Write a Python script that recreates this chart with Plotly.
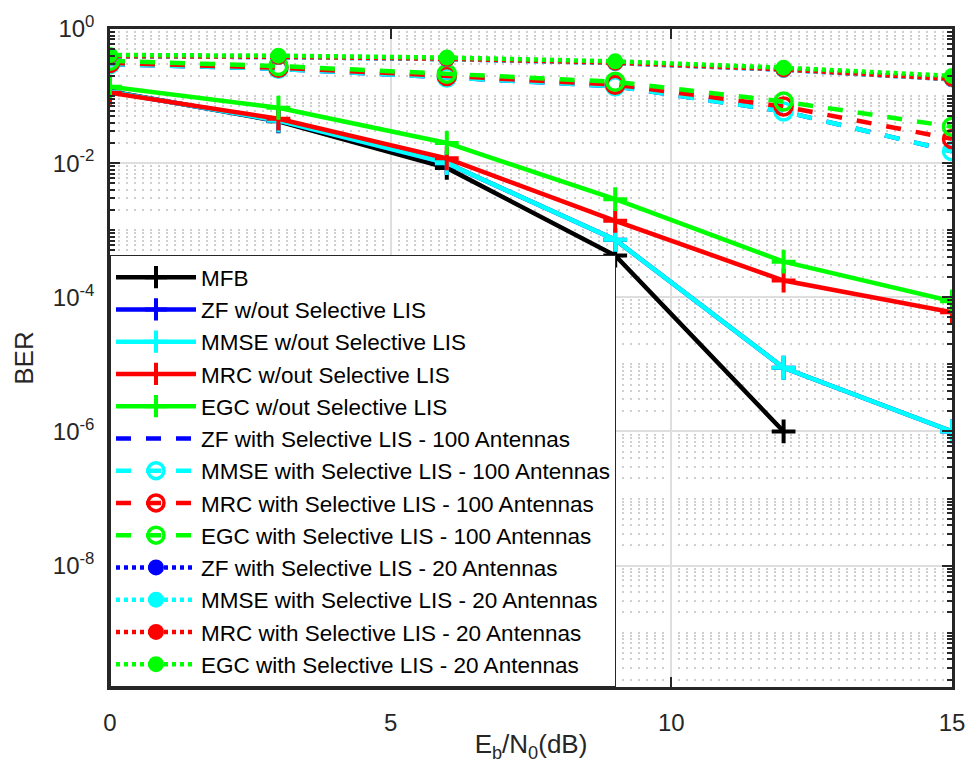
import plotly.graph_objects as go

# Eb/N0 sweep (dB)
snr_db = [0, 3, 6, 9, 12, 15]
snr_db_mfb = [0, 3, 6, 9, 12]

# BER curves
ber_mfb = [0.118, 0.042, 0.0085, 4.2e-4, 1.0e-6]

ber_zf = [0.116, 0.043, 0.0100, 7.2e-4, 8.9e-6, 1.0e-6]
ber_mmse = [0.116, 0.043, 0.0100, 7.2e-4, 8.9e-6, 1.0e-6]
ber_mrc = [0.112, 0.046, 0.0118, 1.38e-3, 1.78e-4, 6.0e-5]
ber_egc = [0.138, 0.067, 0.0200, 2.9e-3, 3.4e-4, 8.7e-5]

ber_zf_100 = [0.300, 0.255, 0.190, 0.140, 0.059, 0.015]
ber_mmse_100 = [0.300, 0.255, 0.190, 0.140, 0.059, 0.015]
ber_mrc_100 = [0.312, 0.265, 0.200, 0.148, 0.070, 0.023]
ber_egc_100 = [0.335, 0.280, 0.215, 0.163, 0.083, 0.035]

ber_zf_20 = [0.392, 0.381, 0.356, 0.311, 0.247, 0.178]
ber_mmse_20 = [0.392, 0.381, 0.356, 0.311, 0.247, 0.178]
ber_mrc_20 = [0.395, 0.385, 0.360, 0.315, 0.250, 0.180]
ber_egc_20 = [0.410, 0.400, 0.375, 0.330, 0.265, 0.200]

series_names = [
    "MFB",
    "ZF w/out Selective LIS",
    "MMSE w/out Selective LIS",
    "MRC w/out Selective LIS",
    "EGC w/out Selective LIS",
    "ZF with Selective LIS - 100 Antennas",
    "MMSE with Selective LIS - 100 Antennas",
    "MRC with Selective LIS - 100 Antennas",
    "EGC with Selective LIS - 100 Antennas",
    "ZF with Selective LIS - 20 Antennas",
    "MMSE with Selective LIS - 20 Antennas",
    "MRC with Selective LIS - 20 Antennas",
    "EGC with Selective LIS - 20 Antennas",
]

y_tick_vals = [1, 1e-2, 1e-4, 1e-6, 1e-8]
y_tick_text = ["10<sup>0</sup>", "10<sup>-2</sup>", "10<sup>-4</sup>",
               "10<sup>-6</sup>", "10<sup>-8</sup>"]
x_tick_vals = [0, 5, 10, 15]

BLACK = "#000000"
BLUE = "#0000ff"
CYAN = "#00ffff"
RED = "#ff0000"
GREEN = "#00ff00"

LW = 4.5
DASH = "15px,15px"
DOT = "4px,4px"

fig = go.Figure()


def add(x, y, name, color, dash="solid", symbol=None, msize=15, mline=0):
    marker = dict(size=msize, color=color, line=dict(color=color, width=mline))
    mode = "lines+markers" if symbol else "lines"
    if symbol:
        marker["symbol"] = symbol
    fig.add_trace(go.Scatter(
        x=x, y=y, name=name, mode=mode, legendgroup=name,
        line=dict(color=color, width=LW, dash=dash),
        marker=marker,
    ))


# solid curves with '+' markers
add(snr_db_mfb, ber_mfb, series_names[0], BLACK, symbol="cross-thin", msize=17, mline=4)
add(snr_db, ber_zf, series_names[1], BLUE, symbol="cross-thin", msize=17, mline=4)
add(snr_db, ber_mmse, series_names[2], CYAN, symbol="cross-thin", msize=17, mline=4)
add(snr_db, ber_mrc, series_names[3], RED, symbol="cross-thin", msize=17, mline=4)
add(snr_db, ber_egc, series_names[4], GREEN, symbol="cross-thin", msize=17, mline=4)

# dashed curves, 100 antennas
add(snr_db, ber_zf_100, series_names[5], BLUE, dash=DASH)
add(snr_db, ber_mmse_100, series_names[6], CYAN, dash=DASH, symbol="circle-open", msize=17, mline=3.5)
add(snr_db, ber_mrc_100, series_names[7], RED, dash=DASH, symbol="circle-open", msize=17, mline=3.5)
add(snr_db, ber_egc_100, series_names[8], GREEN, dash=DASH, symbol="circle-open", msize=17, mline=3.5)

# dotted curves, 20 antennas
add(snr_db, ber_zf_20, series_names[9], BLUE, dash=DOT, symbol="circle", msize=16)
add(snr_db, ber_mmse_20, series_names[10], CYAN, dash=DOT, symbol="circle", msize=16)
add(snr_db, ber_mrc_20, series_names[11], RED, dash=DOT, symbol="circle", msize=16)
add(snr_db, ber_egc_20, series_names[12], GREEN, dash=DOT, symbol="circle", msize=16)

# minor log ticks (2..9 x 10^n plus the odd decades)
minor_vals = []
for e in range(-10, 1):
    for k in range(1, 10):
        v = k * 10.0 ** e
        if k == 1 and e % 2 == 0:
            continue
        if v <= 1:
            minor_vals.append(v)

AX = "#262626"
GRID = "#dedede"

fig.update_layout(
    width=977, height=776,
    margin=dict(l=110, r=23, t=25, b=89),
    paper_bgcolor="white", plot_bgcolor="white",
    font=dict(family="Liberation Sans, Arial, sans-serif", color=AX, size=24),
    showlegend=True,
    legend=dict(
        x=0, y=0, xanchor="left", yanchor="bottom",
        bgcolor="white", bordercolor=AX, borderwidth=1,
        font=dict(size=22.5, color="black"),
        itemwidth=80, tracegroupgap=0,
    ),
    xaxis=dict(
        range=[0, 15], tickvals=x_tick_vals,
        showline=True, linecolor=AX, linewidth=2.5, mirror="ticks",
        ticks="inside", ticklen=10, tickwidth=1.5, tickcolor=AX,
        showgrid=True, gridcolor=GRID, gridwidth=1.5,
        zeroline=False, ticklabelstandoff=12,
        title=dict(text="E<sub>b</sub>/N<sub>0</sub>(dB)", font=dict(size=26), standoff=1),
    ),
    yaxis=dict(
        type="log", range=[-9.81, 0],
        tickvals=y_tick_vals, ticktext=y_tick_text,
        showline=True, linecolor=AX, linewidth=2.5, mirror="ticks",
        ticks="inside", ticklen=10, tickwidth=1.5, tickcolor=AX,
        showgrid=True, gridcolor=GRID, gridwidth=1.5,
        zeroline=False, ticklabelstandoff=8,
        minor=dict(tickvals=minor_vals, ticks="inside", ticklen=5,
                   tickcolor=AX, tickwidth=1.5,
                   showgrid=True, gridcolor="#cfcfcf", griddash="2px,6px", gridwidth=1.5),
        title=dict(text="BER", font=dict(size=26), standoff=12),
    ),
)

fig.write_html("out.html")
